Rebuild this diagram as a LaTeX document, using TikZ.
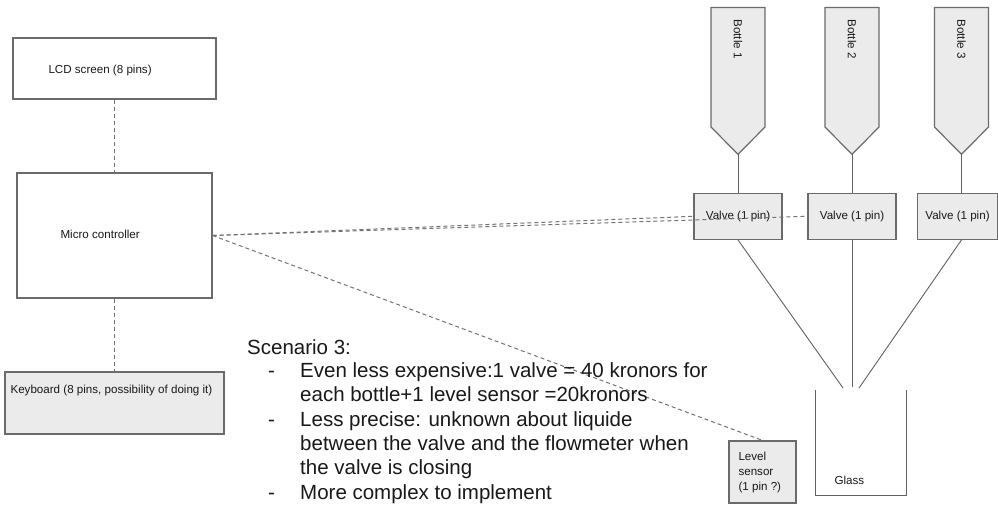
\documentclass[tikz,border=0pt]{standalone}
\usepackage{fontspec}
\setmainfont{Liberation Sans}
\begin{document}
\begin{tikzpicture}[x=1pt,y=-1pt,
  boxline/.style={draw=black!58, line width=1.2pt},
  whitebox/.style={boxline, fill=white, inner sep=0pt},
  greybox/.style={boxline, fill=black!8, inner sep=0pt},
  small/.style={font=\fontsize{11.6}{13.9}\selectfont, text=black!90},
  big/.style={font=\fontsize{20.5}{24}\selectfont, text=black!90, anchor=base west, inner sep=0pt},
  dashline/.style={draw=black!55, line width=1pt, dash pattern=on 4pt off 3pt},
  pipe/.style={draw=black!62, line width=0.9pt}]
\useasboundingbox (0,0) rectangle (998,504);
\fill[white] (0,0) rectangle (998,504);

% left side boxes
\node[whitebox, minimum width=203pt, minimum height=61pt] (lcd) at (114.5,68.5) {};
\node[small, anchor=west] (lcdt) at (45,70) {LCD screen (8 pins)};
\node[whitebox, minimum width=195pt, minimum height=125pt] (mc) at (114.5,235.5) {};
\node[small, anchor=west] (mct) at (57,234) {Micro controller};
\node[greybox, minimum width=219pt, minimum height=62pt] (kb) at (114.5,403) {};
\node[small, anchor=west] (kbt) at (7,390) {Keyboard (8 pins, possibility of doing it)};

\draw[dashline] (lcd.south) -- (mc.north);
\draw[dashline] (mc.south) -- (kb.north);

% bottles
\foreach \i/\x in {1/738,2/852,3/961.5}{
  \draw[boxline, fill=black!8] (\x-27,7.5) -- (\x+27,7.5) -- (\x+27,127) -- (\x,154.3) -- (\x-27,127) -- cycle;
  \coordinate (b\i) at (\x,154.3);
  \node[small, rotate=-90, anchor=west] (bt\i) at (\x,16) {Bottle \i};
}

% valves
\node[greybox, small, minimum width=88pt, minimum height=46pt] (v1) at (738,216.3) {Valve (1 pin)};
\node[greybox, small, minimum width=88pt, minimum height=46pt] (v2) at (852,216.3) {Valve (1 pin)};
\node[greybox, small, minimum width=80pt, minimum height=46pt] (v3) at (957.5,216.3) {Valve (1 pin)};

\draw[pipe] (b1) -- (b1 |- v1.north);
\draw[pipe] (b2) -- (b2 |- v2.north);
\draw[pipe] (b3) -- (b3 |- v3.north);

% glass
\draw[pipe] (815.7,390) -- (815.7,495) -- (906.7,495) -- (906.7,390);
\node[small, anchor=west] (gl) at (831,480) {Glass};
\coordinate (g1) at (843,388);
\coordinate (g2) at (852,387);
\coordinate (g3) at (859,388);
\draw[pipe] (v1.south) -- (g1);
\draw[pipe] (v2.south) -- (g2);
\draw[pipe] (b3 |- v3.south) -- (g3);

% level sensor
\node[greybox, minimum width=67pt, minimum height=62pt] (ls) at (762.5,472) {};
\node[small, anchor=west, align=left, font=\fontsize{11.6}{15}\selectfont] (lst) at (735,472) {Level\\sensor\\(1 pin ?)};

% dashed control lines
\draw[dashline] (mc.east) -- (v1.west);
\draw[dashline] (mc.east) -- (v2.west);
\draw[dashline] (mc.east) -- (ls.north);

% scenario text
\node[big] (s0) at (247,354) {Scenario 3:};
\node[big] (d1) at (268,377.5) {-};
\node[big] (s1) at (300,377.5) {Even less expensive:1 valve = 40 kronors for};
\node[big] (s2) at (300,401.5) {each bottle+1 level sensor =20kronors};
\node[big] (d2) at (268,426) {-};
\node[big] (s3) at (300,426) {Less precise: unknown about liquide};
\node[big] (s4) at (300,450) {between the valve and the flowmeter when};
\node[big] (s5) at (300,474) {the valve is closing};
\node[big] (d3) at (268,499) {-};
\node[big] (s6) at (300,499) {More complex to implement};
\end{tikzpicture}
\end{document}
